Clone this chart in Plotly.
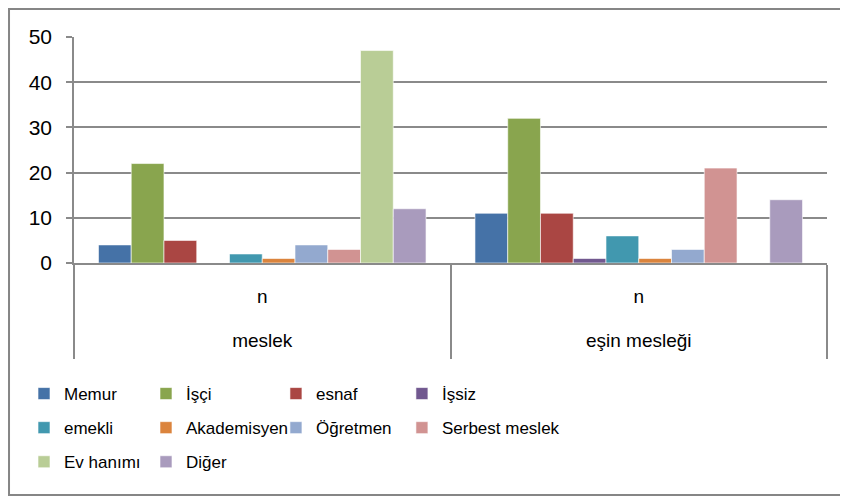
import plotly.graph_objects as go

groups = ["meslek", "eşin mesleği"]
inner_labels = ["n", "n"]

series = ["Memur", "İşçi", "esnaf", "İşsiz", "emekli", "Akademisyen",
          "Öğretmen", "Serbest meslek", "Ev hanımı", "Diğer"]
meslek_vals = [4, 22, 5, 0, 2, 1, 4, 3, 47, 12]
esin_vals = [11, 32, 11, 1, 6, 1, 3, 21, 0, 14]
colors = ["#4572A7", "#89A54E", "#AA4643", "#71588F", "#4198AF",
          "#DB843D", "#93A9CF", "#D19392", "#B9CD96", "#A99BBD"]

y_ticks = [0, 10, 20, 30, 40, 50]

FONT = "Liberation Sans"
GRAY = "#8a8a8a"
legend_ids = ["legend", "legend2", "legend3", "legend4"]

fig = go.Figure()
for i, (name, a, b, c) in enumerate(zip(series, meslek_vals, esin_vals, colors)):
    fig.add_trace(go.Bar(
        x=groups, y=[a, b], name=name, legend=legend_ids[i % 4],
        legendgroup=name,
        marker=dict(color=c, line=dict(color="rgba(255,255,255,0.6)", width=1)),
    ))

# helper traces to register categories on the overlay label axes
fig.add_trace(go.Scatter(x=groups, y=[None, None], xaxis="x2", showlegend=False,
                         hoverinfo="skip", mode="markers"))
fig.add_trace(go.Scatter(x=groups, y=[None, None], xaxis="x3", showlegend=False,
                         hoverinfo="skip", mode="markers"))

def leg(x):
    return dict(
        orientation="v", x=x, y=-0.500, xanchor="left", yanchor="top",
        font=dict(family=FONT, size=17, color="black"),
        traceorder="grouped", tracegroupgap=9, itemwidth=30,
        bgcolor="rgba(0,0,0,0)",
    )

fig.update_layout(
    width=840, height=491,
    margin=dict(l=66, r=21, t=29, b=236, autoexpand=False),
    paper_bgcolor="white", plot_bgcolor="white",
    barmode="group", bargap=0.13, bargroupgap=0,
    font=dict(family=FONT, size=19, color="black"),
    showlegend=True,
    legend=leg(-0.0664),
    legend2=leg(0.0956),
    legend3=leg(0.2682),
    legend4=leg(0.4355),
    xaxis=dict(
        type="category", categoryarray=groups, range=[-0.5, 1.5],
        showline=True, linecolor=GRAY, linewidth=1.5,
        tickson="boundaries", ticks="outside", ticklen=94,
        tickcolor=GRAY, tickwidth=1.5,
        showticklabels=False, showgrid=False, zeroline=False,
    ),
    xaxis2=dict(
        type="category", categoryarray=groups, range=[-0.5, 1.5],
        overlaying="x", anchor="y", side="bottom",
        tickvals=groups, ticktext=inner_labels, ticks="",
        ticklabelstandoff=20, showgrid=False, showline=False, zeroline=False,
        tickfont=dict(family=FONT, size=19, color="black"),
    ),
    xaxis3=dict(
        type="category", categoryarray=groups, range=[-0.5, 1.5],
        overlaying="x", anchor="y", side="bottom",
        ticks="", ticklabelstandoff=64, showgrid=False, showline=False,
        zeroline=False,
        tickfont=dict(family=FONT, size=19, color="black"),
    ),
    yaxis=dict(
        range=[0, 50], tickvals=y_ticks,
        showgrid=True, gridcolor=GRAY, gridwidth=1.5,
        showline=True, linecolor=GRAY, linewidth=1.5,
        ticks="outside", ticklen=6, tickcolor=GRAY, tickwidth=1.5,
        ticklabelstandoff=10, zeroline=False,
        tickfont=dict(family=FONT, size=21, color="black"),
    ),
    shapes=[dict(type="rect", xref="paper", yref="paper",
                 x0=-0.0863, x1=1.0239, y0=-1.0265, y1=1.124,
                 line=dict(color="#868686", width=2), layer="below")],
)

fig.write_html("out.html")
